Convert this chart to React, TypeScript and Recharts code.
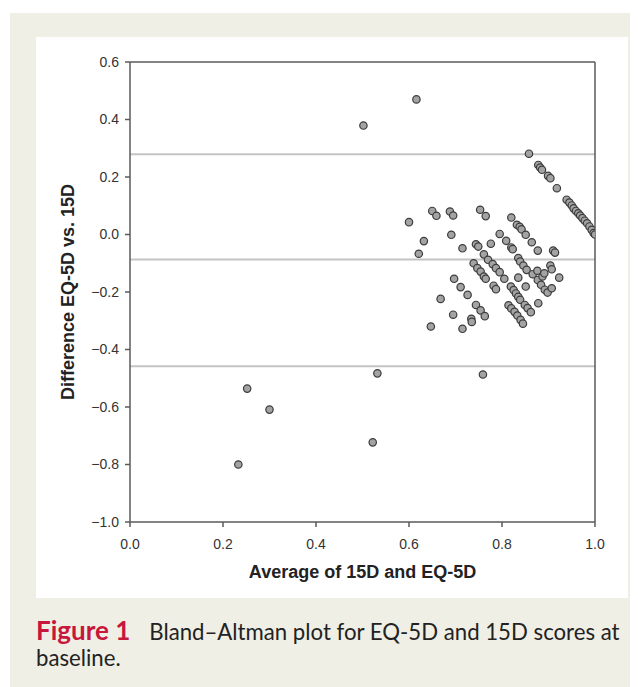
import { ScatterChart, Scatter, XAxis, YAxis, ReferenceLine, Label } from 'recharts';

// average of the two scores, one entry per patient
const avgScores = [
  // outliers
  0.502, 0.616, 0.252, 0.3, 0.233, 0.532, 0.522, 0.759,
  // top right run
  0.858, 0.878, 0.882, 0.886, 0.899, 0.904, 0.918, 0.939, 0.945, 0.95, 0.954,
  0.959, 0.964, 0.968, 0.973, 0.978, 0.983, 0.988, 0.993, 0.997, 1.0,
  // upper rows
  0.6, 0.65, 0.659, 0.688, 0.695, 0.753, 0.765, 0.632, 0.621, 0.691, 0.715,
  0.744, 0.749, 0.761, 0.77, 0.78, 0.787, 0.795, 0.805, 0.776,
  0.739, 0.747, 0.754, 0.761, 0.765, 0.782, 0.787,
  // lower left group
  0.697, 0.711, 0.726, 0.668, 0.695, 0.647, 0.715, 0.734, 0.735, 0.744, 0.754, 0.763,
  // middle bands
  0.82, 0.832, 0.838, 0.842, 0.851, 0.864, 0.877, 0.91, 0.914,
  0.795, 0.809, 0.82, 0.823, 0.835, 0.839, 0.846, 0.853, 0.866, 0.877, 0.884, 0.892, 0.898,
  0.876, 0.887, 0.891, 0.904, 0.907, 0.923, 0.907, 0.835, 0.851, 0.878,
  0.819, 0.825, 0.83, 0.835, 0.839, 0.849, 0.855, 0.862,
  0.814, 0.82, 0.827, 0.833, 0.84, 0.845,
];

// EQ-5D minus 15D
const diffScores = [
  0.379, 0.47, -0.536, -0.609, -0.8, -0.483, -0.723, -0.487,
  0.281, 0.242, 0.233, 0.225, 0.204, 0.196, 0.161, 0.121, 0.111, 0.101, 0.091,
  0.082, 0.074, 0.066, 0.057, 0.048, 0.039, 0.028, 0.016, 0.005, 0.0,
  0.043, 0.082, 0.065, 0.08, 0.066, 0.086, 0.064, -0.023, -0.067, -0.001, -0.048,
  -0.034, -0.042, -0.069, -0.088, -0.103, -0.117, -0.131, -0.154, -0.032,
  -0.1, -0.117, -0.129, -0.146, -0.154, -0.178, -0.19,
  -0.154, -0.183, -0.21, -0.224, -0.279, -0.32, -0.328, -0.293, -0.304, -0.245, -0.264, -0.284,
  0.059, 0.034, 0.027, 0.018, -0.001, -0.027, -0.056, -0.056, -0.063,
  0.002, -0.022, -0.045, -0.051, -0.082, -0.094, -0.108, -0.123, -0.138, -0.158, -0.175, -0.192, -0.202,
  -0.126, -0.146, -0.135, -0.108, -0.121, -0.15, -0.187, -0.15, -0.181, -0.239,
  -0.181, -0.193, -0.205, -0.217, -0.227, -0.245, -0.256, -0.27,
  -0.246, -0.257, -0.269, -0.282, -0.297, -0.31,
];

const meanDiff = -0.087;
const upperLimit = 0.279;
const lowerLimit = -0.458;

const xTicks = [0, 0.2, 0.4, 0.6, 0.8, 1.0];
const yTicks = [-1.0, -0.8, -0.6, -0.4, -0.2, 0, 0.2, 0.4, 0.6];

const points = avgScores.map((avg, i) => ({ avg, diff: diffScores[i] }));

const fmt = (v: number) => (v < -1e-9 ? '\u2212' : '') + Math.abs(v).toFixed(1);

const axisColor = '#5a5a5a';
const tickStyle = { fontFamily: '"Liberation Sans", Arial, sans-serif', fontSize: 14, fill: '#333' };
const titleFont = '"Liberation Sans", Arial, sans-serif';

const Dot = (props: any) => (
  <circle cx={props.cx} cy={props.cy} r={3.7} fill="#a3a3a3" stroke="#3c3c3c" strokeWidth={1.2} />
);

const captionLine = {
  whiteSpace: 'nowrap' as const,
  height: 28,
  lineHeight: '28px',
};

export default function App() {
  return (
    <div style={{ position: 'relative', width: 630, height: 679 }}>
      <div style={{ position: 'absolute', left: 2, top: 5, width: 628, height: 674, background: '#f0efe6' }}>
        <div style={{ position: 'absolute', left: 26, top: 24, width: 592, height: 561, background: '#fff' }}>
          <ScatterChart width={592} height={561} margin={{ top: 25, right: 33, bottom: 16, left: 14 }}>
            <XAxis
              type="number"
              dataKey="avg"
              domain={[0, 1]}
              ticks={xTicks}
              tickFormatter={fmt}
              tick={tickStyle}
              tickSize={5}
              tickMargin={12}
              height={60}
              stroke={axisColor}
              strokeWidth={1.5}
              allowDataOverflow
            >
              <Label
                content={({ viewBox }: any) => (
                  <text
                    x={viewBox.x + viewBox.width / 2}
                    y={viewBox.y + 56}
                    textAnchor="middle"
                    fontFamily={titleFont}
                    fontSize={18}
                    fontWeight="bold"
                    fill="#222"
                  >
                    Average of 15D and EQ-5D
                  </text>
                )}
              />
            </XAxis>
            <YAxis
              type="number"
              dataKey="diff"
              domain={[-1, 0.6]}
              ticks={yTicks}
              tickFormatter={fmt}
              tick={tickStyle}
              tickSize={5}
              tickMargin={6}
              width={80}
              stroke={axisColor}
              strokeWidth={1.5}
              allowDataOverflow
            >
              <Label
                content={({ viewBox }: any) => {
                  const cx = viewBox.x + 23.5;
                  const cy = viewBox.y + viewBox.height / 2;
                  return (
                    <text
                      x={cx}
                      y={cy}
                      transform={`rotate(-90 ${cx} ${cy})`}
                      textAnchor="middle"
                      fontFamily={titleFont}
                      fontSize={18}
                      fontWeight="bold"
                      fill="#222"
                    >
                      Difference EQ-5D vs. 15D
                    </text>
                  );
                }}
              />
            </YAxis>
            <ReferenceLine y={upperLimit} stroke="#c4c4c4" strokeWidth={2} />
            <ReferenceLine y={meanDiff} stroke="#c4c4c4" strokeWidth={2} />
            <ReferenceLine y={lowerLimit} stroke="#c4c4c4" strokeWidth={2} />
            <ReferenceLine y={0.6} stroke={axisColor} strokeWidth={1.5} />
            <ReferenceLine x={1} stroke={axisColor} strokeWidth={1.5} />
            <Scatter data={points} shape={Dot} isAnimationActive={false} />
          </ScatterChart>
        </div>
        <div
          style={{
            position: 'absolute',
            left: 26,
            top: 603,
            fontFamily: 'Lato, "Open Sans", sans-serif',
            fontSize: 22.2,
            color: '#222',
          }}
        >
          <div style={captionLine}>
            <span style={{ color: '#c8173d', fontWeight: 'bold', fontSize: 26, marginRight: 19 }}>Figure 1</span>
            <span>Bland–Altman plot for EQ-5D and 15D scores at</span>
          </div>
          <div style={captionLine}>baseline.</div>
        </div>
      </div>
    </div>
  );
}
